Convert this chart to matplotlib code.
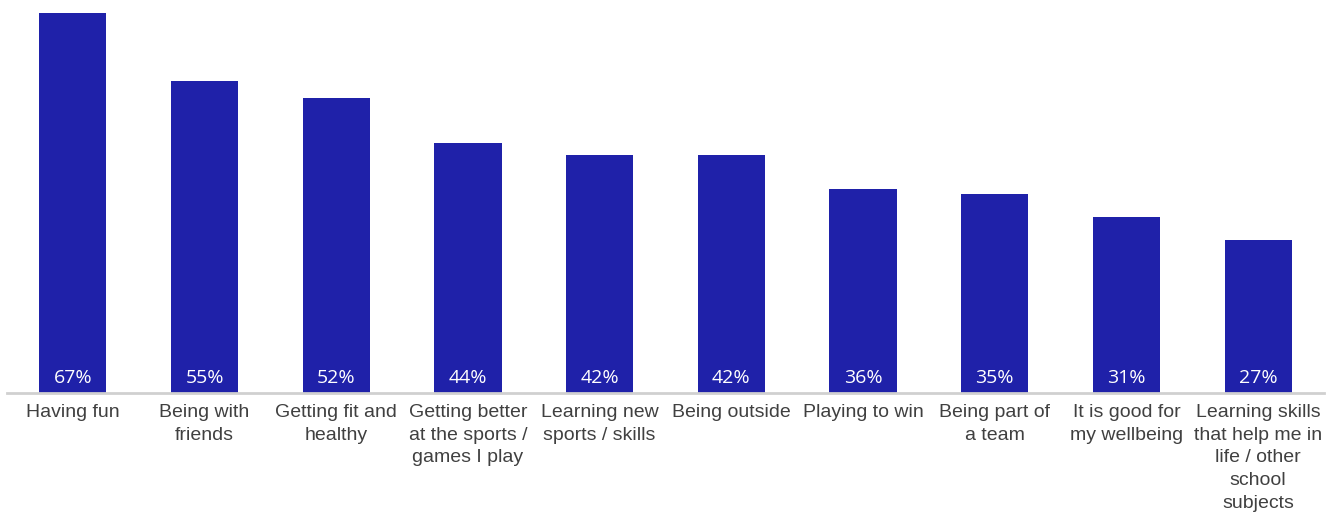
import matplotlib.pyplot as plt
import numpy as np

categories = ["Having fun", "Being with\nfriends", "Getting fit and\nhealthy",
              "Getting better\nat the sports /\ngames I play", "Learning new\nsports / skills",
              "Being outside", "Playing to win", "Being part of\na team",
              "It is good for\nmy wellbeing", "Learning skills\nthat help me in\nlife / other\nschool\nsubjects"]
values = [67, 55, 52, 44, 42, 42, 36, 35, 31, 27]
value_labels = ["67%", "55%", "52%", "44%", "42%", "42%", "36%", "35%", "31%", "27%"]

fig = plt.figure(figsize=(13.37, 5.16), dpi=100)
ax = fig.add_axes([7 / 1337, 123 / 516, 1317 / 1337, 393 / 516])

x = np.arange(len(values))
ax.bar(x, values, width=0.51, color="#1F21A9", zorder=2)
ax.set_xlim(-0.5, len(values) - 0.5)
ax.set_ylim(0, 393 / 5.672)

for xi, lab in zip(x, value_labels):
    ax.text(xi, 2.6, lab, ha="center", va="center", color="white",
            fontsize=14, family="Open Sans")

for xi, cat in zip(x, categories):
    ax.text(xi, -1.9, cat, ha="center", va="top", color="#404040",
            fontsize=14, family="Liberation Sans", linespacing=1.45)

ax.set_xticks([])
ax.set_yticks([])
for s in ["top", "right", "left"]:
    ax.spines[s].set_visible(False)
ax.spines["bottom"].set_color("#d0d0d0")
ax.spines["bottom"].set_linewidth(2)

fig.savefig("out.png", dpi=100)
